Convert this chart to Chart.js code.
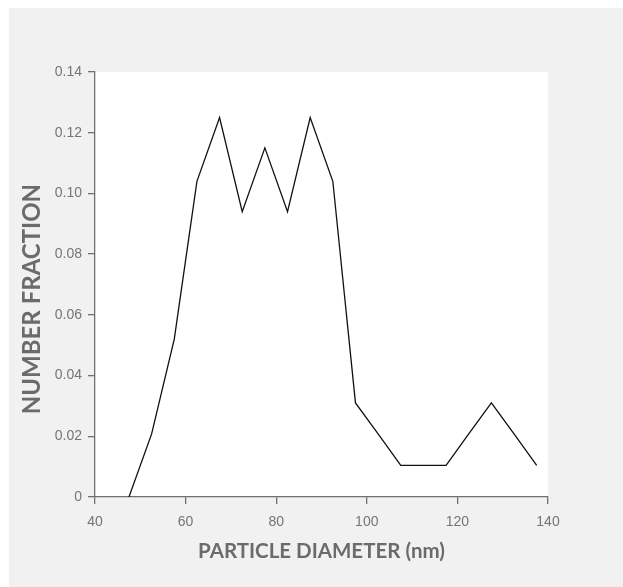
<!DOCTYPE html>
<html>
<head>
<meta charset="utf-8">
<title>Particle size distribution</title>
<script src="https://cdn.jsdelivr.net/npm/chart.js@4/dist/chart.umd.min.js"></script>
<style>
  html, body { margin: 0; padding: 0; background: #fff; }
  #wrap { position: relative; width: 623px; height: 587px; }
</style>
</head>
<body>
<div id="wrap"><canvas id="sizeChart" width="623" height="587"></canvas></div>
<script>
// bin centres (nm) and number fraction
var diameters = [47.5, 52.5, 57.5, 62.5, 67.5, 72.5, 77.5, 82.5, 87.5, 92.5, 97.5, 102.5, 107.5, 112.5, 117.5, 122.5, 127.5, 132.5, 137.5];
var fractions = [0, 0.0208, 0.052, 0.104, 0.125, 0.094, 0.115, 0.094, 0.125, 0.104, 0.031, 0.0208, 0.0104, 0.0104, 0.0104, 0.0208, 0.031, 0.0208, 0.0104];
var xTicks = [40, 60, 80, 100, 120, 140];
var yTicks = [0, 0.02, 0.04, 0.06, 0.08, 0.10, 0.12, 0.14];

var axisColor = "#707070";
var tickColor = "#757575";
var titleColor = "#6b6b6b";

// gray panel behind everything, white plot area
var panelBg = {
	id: "panelBg",
	beforeDraw: function (chart) {
		var ctx = chart.ctx;
		var a = chart.chartArea;
		ctx.save();
		ctx.fillStyle = "#f1f1f1";
		ctx.fillRect(9, 8, chart.width - 9, chart.height - 8);
		ctx.fillStyle = "#ffffff";
		ctx.fillRect(a.left, a.top, a.right - a.left, a.bottom - a.top);
		ctx.restore();
	}
};

var points = [];
for (var i = 0; i < diameters.length; i++) {
	points.push({ x: diameters[i], y: fractions[i] });
}

var ctx = document.getElementById("sizeChart").getContext("2d");
var sizeChart = new Chart(ctx, {
	type: "line",
	data: {
		datasets: [{
			label: "Number fraction",
			data: points,
			borderColor: "#111111",
			borderWidth: 1.3,
			pointRadius: 0,
			tension: 0,
			fill: false
		}]
	},
	options: {
		responsive: false,
		animation: false,
		layout: {
			padding: { left: 0, top: 72, right: 75, bottom: 0 }
		},
		plugins: {
			legend: { display: false },
			tooltip: { enabled: false }
		},
		scales: {
			x: {
				type: "linear",
				min: 40,
				max: 140,
				afterBuildTicks: function (scale) {
					scale.ticks = xTicks.map(function (v) { return { value: v }; });
				},
				afterFit: function (scale) { scale.height = 90; },
				grid: { drawOnChartArea: false, tickLength: 7, color: axisColor, lineWidth: 1.3 },
				border: { display: true, color: axisColor, width: 1.3 },
				ticks: {
					color: tickColor,
					padding: 10,
					maxRotation: 0,
					font: { family: "'Liberation Sans', Arial, sans-serif", size: 14 }
				},
				title: {
					display: true,
					text: "PARTICLE DIAMETER (nm)",
					color: titleColor,
					padding: { top: 0, bottom: 23 },
					font: { family: "Lato, 'Open Sans', sans-serif", size: 20.5, weight: "bold" }
				}
			},
			y: {
				min: 0,
				max: 0.14,
				afterBuildTicks: function (scale) {
					scale.ticks = yTicks.map(function (v) { return { value: v }; });
				},
				afterFit: function (scale) { scale.width = 95; },
				grid: { drawOnChartArea: false, tickLength: 7, color: axisColor, lineWidth: 1.3 },
				border: { display: true, color: axisColor, width: 1.3 },
				ticks: {
					color: tickColor,
					padding: 6,
					font: { family: "'Liberation Sans', Arial, sans-serif", size: 14 },
					callback: function (v) { return v === 0 ? "0" : v.toFixed(2); }
				},
				title: {
					display: true,
					// trailing spaces push the label a little down, like the original
					text: "NUMBER FRACTION     ",
					color: titleColor,
					padding: { top: 18, bottom: 0 },
					font: { family: "Lato, 'Open Sans', sans-serif", size: 24, weight: "bold" }
				}
			}
		}
	},
	plugins: [panelBg]
});
</script>
</body>
</html>
